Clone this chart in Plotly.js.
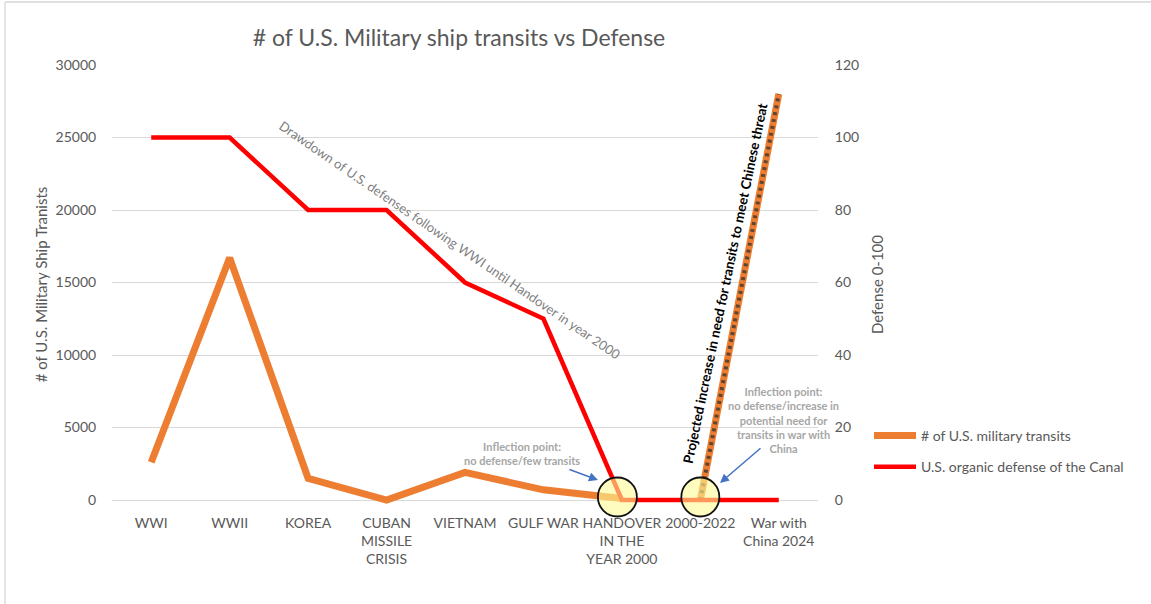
<!DOCTYPE html>
<html>
<head>
<meta charset="utf-8">
<script src="https://cdn.plot.ly/plotly-3.0.1.min.js"></script>
<style>
  html, body { margin: 0; padding: 0; background: #ffffff; }
  #chart { width: 1151px; height: 604px; }
</style>
</head>
<body>
<div id="chart"></div>
<script>
// Eras along the horizontal axis
const eras = [
  'WWI', 'WWII', 'KOREA', 'CUBAN<br>MISSILE<br>CRISIS', 'VIETNAM',
  'GULF WAR', 'HANDOVER<br>IN THE<br>YEAR 2000', '2000-2022', 'War with<br>China 2024'
];

// Number of U.S. military ship transits per era (left axis)
const transits = [2600, 16700, 1500, 0, 1900, 700, 100, null, null];

// Projected transits needed for a war with China (dotted segment, left axis)
const projectedTransits = [null, null, null, null, null, null, null, 0, 28000];

// U.S. organic defense of the Canal, scale 0-100 (right axis)
const defense = [100, 100, 80, 80, 60, 50, 0, 0, 0];

// Axis ticks
const leftTicks = [0, 5000, 10000, 15000, 20000, 25000, 30000];
const rightTicks = [0, 20, 40, 60, 80, 100, 120];

const FONT = 'Lato, "Open Sans", sans-serif';
const GREY = '#595959';
const ORANGE = '#ED7D31';
const RED = '#FF0000';

const traces = [
  {
    x: eras, y: transits, type: 'scatter', mode: 'lines',
    name: '# of U.S. military transits',
    line: { color: ORANGE, width: 7 },
    legendgroup: 'a', hoverinfo: 'x+y'
  },
  {
    x: eras, y: projectedTransits, type: 'scatter', mode: 'lines',
    showlegend: false,
    line: { color: ORANGE, width: 7 },
    hoverinfo: 'x+y'
  },
  {
    x: eras, y: projectedTransits, type: 'scatter', mode: 'lines',
    showlegend: false,
    line: { color: '#5e4632', width: 4, dash: '3px,4px' },
    hoverinfo: 'skip'
  },
  {
    x: eras, y: defense, type: 'scatter', mode: 'lines', yaxis: 'y2',
    name: 'U.S. organic defense of the Canal',
    line: { color: RED, width: 4.5 },
    legendgroup: 'b', hoverinfo: 'x+y'
  }
];

// Plot area in pixels: x 112..818, y 65..504 (zero sits at y = 500,
// a small pad below it keeps the thick lines on zero fully visible)
const L = 112, R = 818, T = 65, B = 504, ZERO = 500;
const PAD = (B - ZERO) / (ZERO - T); // fraction of the value span added below zero
const px = v => (v - L) / (R - L);
const py = v => (B - v) / (B - T);

const noteFont = { family: FONT, size: 11, color: '#a6a6a6', weight: 'bold' };

// highlighted circle around an era on the zero line (kept unclipped below the axis)
const marker = (idx, dx0, dx1) => ({
  type: 'circle', xref: 'x', yref: 'paper', xsizemode: 'pixel', ysizemode: 'pixel',
  xanchor: idx, yanchor: py(497), x0: dx0, x1: dx1, y0: -19.5, y1: 19.5,
  fillcolor: 'rgba(255,250,150,0.6)', line: { color: '#111111', width: 1.8 }, layer: 'above'
});

const layout = {
  width: 1151, height: 604,
  margin: { l: L, r: 1151 - R, t: T, b: 604 - B },
  paper_bgcolor: '#ffffff', plot_bgcolor: '#ffffff',
  font: { family: FONT, size: 14, color: GREY },
  title: {
    text: '# of U.S. Military ship transits vs Defense',
    font: { family: FONT, size: 23, color: GREY },
    x: 459 / 1151, xanchor: 'center', xref: 'container',
    y: 1 - 38 / 604, yanchor: 'middle', yref: 'container'
  },
  xaxis: {
    type: 'category', range: [-0.5, eras.length - 0.5],
    tickfont: { family: FONT, size: 14, color: GREY },
    showgrid: false, zeroline: false, showline: false,
    ticks: 'outside', ticklen: 6, tickcolor: 'rgba(0,0,0,0)',
    fixedrange: true
  },
  yaxis: {
    range: [-30000 * PAD, 30000], tickvals: leftTicks, ticktext: leftTicks.map(String),
    showgrid: true, gridcolor: '#d9d9d9', gridwidth: 1,
    zeroline: false, showline: false,
    ticks: 'outside', ticklen: 12, tickcolor: 'rgba(0,0,0,0)',
    tickfont: { family: FONT, size: 14, color: GREY },
    title: { text: '# of U.S. Military Ship Tranists', font: { family: FONT, size: 15, color: GREY }, standoff: 4 },
    fixedrange: true
  },
  yaxis2: {
    overlaying: 'y', side: 'right', range: [-120 * PAD, 120],
    tickvals: rightTicks, ticktext: rightTicks.map(String),
    showgrid: false, zeroline: false, showline: false,
    ticks: 'outside', ticklen: 13, tickcolor: 'rgba(0,0,0,0)',
    tickfont: { family: FONT, size: 14, color: GREY },
    title: { text: 'Defense 0-100', font: { family: FONT, size: 15, color: GREY }, standoff: 14 },
    fixedrange: true
  },
  legend: {
    x: px(869), xanchor: 'left', y: py(420), yanchor: 'top',
    font: { family: FONT, size: 14, color: GREY },
    bgcolor: 'rgba(0,0,0,0)', tracegroupgap: 10, itemwidth: 42
  },
  shapes: [
    // inflection markers
    marker(6, -24, 15),
    marker(7, -19, 19),
    // frame around the chart
    { type: 'line', xref: 'paper', yref: 'paper', x0: px(5), x1: px(1151), y0: py(2), y1: py(2),
      line: { color: '#d6d6d6', width: 1.5 }, layer: 'below' },
    { type: 'line', xref: 'paper', yref: 'paper', x0: px(5), x1: px(5), y0: py(2), y1: py(604),
      line: { color: '#dddddd', width: 1.5 }, layer: 'below' }
  ],
  annotations: [
    {
      xref: 'paper', yref: 'paper', x: px(450), y: py(240), xanchor: 'center', yanchor: 'middle',
      showarrow: false,
      text: 'Drawdown of U.S. defenses following WWI until Handover in year 2000',
      textangle: 34.4, font: { family: FONT, size: 13, color: '#7f7f7f' }
    },
    {
      xref: 'paper', yref: 'paper', x: px(725), y: py(284), xanchor: 'center', yanchor: 'middle',
      showarrow: false,
      text: 'Projected increase in need for transits to meet Chinese threat',
      textangle: -78.2, font: { family: FONT, size: 13.5, color: '#000000', weight: 'bold' }
    },
    {
      xref: 'paper', yref: 'paper', x: px(522), y: py(453), xanchor: 'center', yanchor: 'middle',
      showarrow: false,
      text: 'Inflection point:<br>no defense/few transits', align: 'center', font: noteFont
    },
    {
      xref: 'paper', yref: 'paper', x: px(598), y: py(480), text: '',
      showarrow: true, arrowhead: 2, arrowsize: 1.2, arrowwidth: 1.5, arrowcolor: '#4472C4',
      axref: 'pixel', ayref: 'pixel', ax: -30, ay: -11
    },
    {
      xref: 'paper', yref: 'paper', x: px(783), y: py(420), xanchor: 'center', yanchor: 'middle',
      showarrow: false,
      text: 'Inflection point:<br>no defense/increase in<br>potential need for<br>transits in war with<br>China',
      align: 'center', font: noteFont
    },
    {
      xref: 'paper', yref: 'paper', x: px(720), y: py(483), text: '',
      showarrow: true, arrowhead: 2, arrowsize: 1.2, arrowwidth: 1.5, arrowcolor: '#4472C4',
      axref: 'pixel', ayref: 'pixel', ax: 42, ay: -36
    }
  ]
};

Plotly.newPlot('chart', traces, layout, { displayModeBar: false, staticPlot: true });
</script>
</body>
</html>
